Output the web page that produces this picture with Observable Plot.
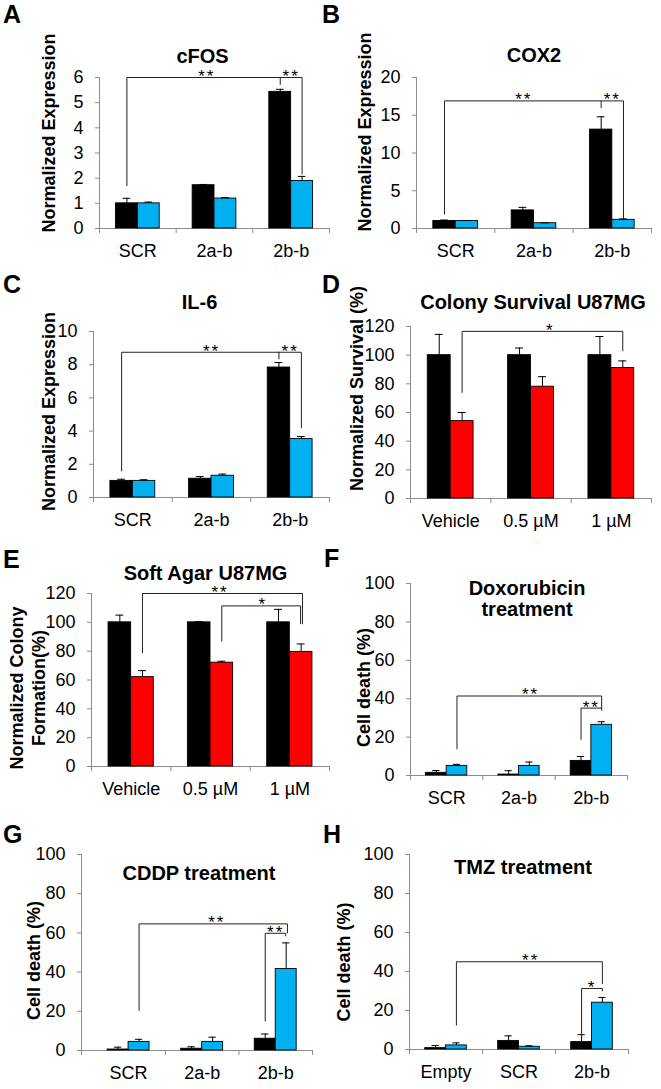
<!DOCTYPE html>
<html>
<head>
<meta charset="utf-8">
<script src="https://cdn.jsdelivr.net/npm/d3@7"></script>
<script src="https://cdn.jsdelivr.net/npm/@observablehq/plot@0.6"></script>
<style>
  body { margin: 0; background: #fff; }
  #fig { position: relative; width: 661px; height: 1089px; overflow: hidden; background: #fff;
         font-family: "Liberation Sans", Arial, Helvetica, sans-serif; }
  .panel { position: absolute; }
  .letter { position: absolute; font: bold 25px/25px "Liberation Sans", Arial, sans-serif; color: #000; }
  .stars text { letter-spacing: 2px; }
</style>
</head>
<body>
<div id="fig"></div>
<script>
// ---------- categories ----------
const geneCats = ["SCR", "2a-b", "2b-b"];
const doseCats = ["Vehicle", "0.5 µM", "1 µM"];
const tmzCats  = ["Empty", "SCR", "2b-b"];

// ---------- A: cFOS ----------
const cfosCtrl = [1.0, 1.72, 5.43];
const cfosCtrlErr = [0.2, 0.03, 0.1];
const cfosKd = [1.0, 1.19, 1.89];
const cfosKdErr = [0.05, 0.04, 0.18];
const cfosTicks = [0, 1, 2, 3, 4, 5, 6];
const cfosBrackets = [[[0, -1, 1.7], [0, -1, 6], [2, 1, 6], [2, 1, 2.16]], [[2, -1, 6], [2, -1, 5.72]]];
const cfosStars = [[0.9, 6, "**"], [2.0, 6, "**"]];

// ---------- B: COX2 ----------
const cox2Ctrl = [1.0, 2.4, 13.1];
const cox2CtrlErr = [0.12, 0.4, 1.7];
const cox2Kd = [1.0, 0.7, 1.15];
const cox2KdErr = [0.05, 0.05, 0.12];
const cox2Ticks = [0, 5, 10, 15, 20];
const cox2Brackets = [[[0, -1, 1.9], [0, -1, 16.9], [2, 1, 16.9], [2, 1, 1.35]], [[2, -1, 16.9], [2, -1, 16.0]]];
const cox2Stars = [[0.87, 16.9, "**"], [2.0, 16.9, "**"]];

// ---------- C: IL-6 ----------
const il6Ctrl = [1.0, 1.13, 7.83];
const il6CtrlErr = [0.1, 0.13, 0.3];
const il6Kd = [1.0, 1.31, 3.52];
const il6KdErr = [0.07, 0.1, 0.15];
const il6Ticks = [0, 2, 4, 6, 8, 10];
const il6Brackets = [[[0, -1, 1.6], [0, -1, 8.75], [2, 1, 8.75], [2, 1, 4.2]], [[2, -1, 8.75], [2, -1, 8.35]]];
const il6Stars = [[1.0, 8.75, "**"], [2.0, 8.75, "**"]];

// ---------- D: Colony Survival ----------
const colonyCtrl = [100, 100, 100];
const colonyCtrlErr = [14.5, 5, 13];
const colonyTreat = [54, 78, 91];
const colonyTreatErr = [6, 7, 5];
const pctTicks120 = [0, 20, 40, 60, 80, 100, 120];
const colonyBrackets = [[[0, 1, 74], [0, 1, 116.6], [2, 1, 116.6], [2, 1, 103]]];
const colonyStars = [[1.24, 116.6, "*"]];

// ---------- E: Soft Agar ----------
const agarCtrl = [100, 100, 100];
const agarCtrlErr = [5, 0.5, 9];
const agarTreat = [62, 72, 79.5];
const agarTreatErr = [4.5, 1, 5.5];
const agarBrackets = [[[0, 1, 79], [0, 1, 120], [2, 1.12, 120], [2, 1.12, 99]],
                      [[1, 1, 87], [1, 1, 111.4], [2, 0.95, 111.4], [2, 0.95, 99]]];
const agarStars = [[1.12, 120, "**"], [1.66, 111.4, "*"]];

// ---------- F: Doxorubicin ----------
const doxoCtrl = [1.4, 0.5, 7.6];
const doxoCtrlErr = [1.2, 2.0, 2.3];
const doxoKd = [5.0, 5.0, 26.4];
const doxoKdErr = [0.8, 2.0, 1.6];
const pctTicks100 = [0, 20, 40, 60, 80, 100];
const doxoBrackets = [[[0, 1, 13.9], [0, 1, 41.4], [2, 1, 41.4], [2, 1, 34]],
                      [[2, -1, 18.8], [2, -1, 35.1], [2, 1, 35.1]]];
const doxoStars = [[1.16, 41.4, "**"], [2.0, 35.1, "**"]];

// ---------- G: CDDP ----------
const cddpCtrl = [0.5, 0.9, 6.0];
const cddpCtrlErr = [1.2, 1.0, 2.4];
const cddpKd = [4.4, 4.4, 41.6];
const cddpKdErr = [1.3, 2.4, 13.3];
const cddpBrackets = [[[0, 1, 20.4], [0, 1, 64.6], [2, 1.12, 64.6], [2, 1.12, 60]],
                      [[2, -1, 15], [2, -1, 59.8], [2, 0.95, 59.8], [2, 0.95, 58.5]]];
const cddpStars = [[1.2, 64.6, "**"], [2.0, 59.8, "**"]];

// ---------- H: TMZ ----------
const tmzCtrl = [0.7, 4.4, 3.8];
const tmzCtrlErr = [1.3, 2.6, 3.8];
const tmzKd = [2.1, 1.4, 24.0];
const tmzKdErr = [1.3, 0.5, 2.7];
const tmzBrackets = [[[0, 1, 12.5], [0, 1, 45], [2, 1, 45], [2, 1, 33.8]],
                     [[2, -1, 6], [2, -1, 31.3], [2, 1, 31.3], [2, 1, 30]]];
const tmzStars = [[1.16, 45, "**"], [2.0, 31.3, "*"]];

// ---------- colours ----------
const BLUE = "#00B0F0";
const RED = "#FF0000";
const AXIS = "#8c8c8c";
const FONT = "'Liberation Sans', Arial, Helvetica, sans-serif";
const BW = 0.285; // bar width in category units

function makePanel(cfg) {
  const rows = [];
  cfg.cats.forEach((c, i) => {
    rows.push({i, s: 0, v: cfg.ctrl[i], e: cfg.ctrlErr[i], fill: "#000"});
    rows.push({i, s: 1, v: cfg.treat[i], e: cfg.treatErr[i], fill: cfg.color});
  });
  const cx = d => d.i + (d.s - 0.5) * BW;
  const bpts = [];
  cfg.brackets.forEach((br, k) => br.forEach(([i, side, v]) => bpts.push({k, x: i + side * BW / 2, y: v})));
  const stars = cfg.stars.map(([x, y, t]) => ({x, y, t}));
  const x0 = cfg.xStart ?? -0.5;
  const bounds = [x0, 0.5, 1.5, 2.5];
  const catIdx = cfg.cats.map((c, i) => i);

  const plot = Plot.plot({
    width: cfg.w, height: cfg.h,
    marginLeft: cfg.m[0], marginRight: cfg.m[1], marginTop: cfg.m[2], marginBottom: cfg.m[3],
    style: {fontFamily: FONT, fontSize: "18px", overflow: "visible", background: "transparent", color: "#000"},
    x: {type: "linear", domain: [x0, 2.5], axis: null},
    y: {domain: cfg.yDomain, axis: null},
    marks: [
      Plot.ruleY([0], {stroke: AXIS, strokeWidth: 1}),
      Plot.ruleX([x0], {stroke: AXIS, strokeWidth: 1}),
      Plot.axisY({ticks: cfg.yTicks, tickSize: 4, tickFormat: () => "", color: AXIS, label: null}),
      Plot.axisY({ticks: cfg.yTicks, tickSize: 0, tickPadding: 16, color: "#000", label: null,
                  tickFormat: d => String(d)}),
      Plot.axisX({ticks: bounds, tickSize: 5, tickFormat: () => "", color: AXIS, label: null}),
      Plot.axisX({ticks: catIdx, tickSize: 0, tickPadding: 16, color: "#000", label: null,
                  tickFormat: i => cfg.cats[i]}),
      Plot.rectY(rows, {x1: d => d.i - BW + d.s * BW, x2: d => d.i + d.s * BW, y1: 0, y2: "v",
                        fill: "fill", stroke: "#000", strokeWidth: 0.9}),
      Plot.ruleX(rows, {x: cx, y1: "v", y2: d => d.v + d.e, stroke: "#000", strokeWidth: 1}),
      Plot.ruleY(rows, {y: d => d.v + d.e, x1: d => cx(d) - 0.05, x2: d => cx(d) + 0.05, stroke: "#000", strokeWidth: 1}),
      Plot.line(bpts, {x: "x", y: "y", z: "k", stroke: "#222", strokeWidth: 1}),
      Plot.text(stars, {x: "x", y: "y", text: "t", dy: -1, fontSize: 17, fill: "#000", className: "stars"}),
      Plot.text([cfg.title], {frameAnchor: "top", lineAnchor: "middle", textAnchor: "middle", dx: cfg.tOff[0], dy: cfg.tOff[1],
                              fontWeight: "bold", fontSize: 20, lineHeight: 1.05, fill: "#000"}),
      Plot.text([cfg.yLabel], {frameAnchor: "left", lineAnchor: "middle", textAnchor: "middle", rotate: -90,
                               dx: cfg.lOff[0], dy: cfg.lOff[1],
                               fontWeight: "bold", fontSize: 18, lineHeight: 1.22, fill: "#000"})
    ]
  });
  const holder = document.createElement("div");
  holder.className = "panel";
  holder.style.left = cfg.left + "px";
  holder.style.top = cfg.top + "px";
  holder.style.width = cfg.w + "px";
  holder.style.height = cfg.h + "px";
  holder.appendChild(plot);
  document.getElementById("fig").appendChild(holder);

  const L = document.createElement("div");
  L.className = "letter";
  L.textContent = cfg.letter;
  L.style.left = cfg.letterPos[0] + "px";
  L.style.top = cfg.letterPos[1] + "px";
  document.getElementById("fig").appendChild(L);
}

const panels = [
  {letter: "A", letterPos: [3, 2], left: 0, top: 0, w: 330, h: 270, m: [99, 1, 77, 42],
   cats: geneCats, ctrl: cfosCtrl, ctrlErr: cfosCtrlErr, treat: cfosKd, treatErr: cfosKdErr, color: BLUE,
   yDomain: [0, 6], yTicks: cfosTicks, brackets: cfosBrackets, stars: cfosStars,
   title: "cFOS", tOff: [-12, -21], yLabel: "Normalized Expression", lOff: [-52, -20]},
  {letter: "B", letterPos: [322, 2], left: 330, top: 0, w: 331, h: 270, m: [86, 10, 77, 42],
   cats: geneCats, ctrl: cox2Ctrl, ctrlErr: cox2CtrlErr, treat: cox2Kd, treatErr: cox2KdErr, color: BLUE,
   yDomain: [0, 20], yTicks: cox2Ticks, brackets: cox2Brackets, stars: cox2Stars,
   title: "COX2", tOff: [0, -22], yLabel: "Normalized Expression", lOff: [-53, -21]},
  {letter: "C", letterPos: [3, 272], left: 0, top: 270, w: 330, h: 270, m: [93, 1, 61, 43],
   cats: geneCats, ctrl: il6Ctrl, ctrlErr: il6CtrlErr, treat: il6Kd, treatErr: il6KdErr, color: BLUE,
   yDomain: [0, 10], yTicks: il6Ticks, brackets: il6Brackets, stars: il6Stars,
   title: "IL-6", tOff: [-12, -29], yLabel: "Normalized Expression", lOff: [-46, -3]},
  {letter: "D", letterPos: [322, 272], left: 330, top: 270, w: 331, h: 270, m: [80, 10, 56, 42],
   cats: doseCats, ctrl: colonyCtrl, ctrlErr: colonyCtrlErr, treat: colonyTreat, treatErr: colonyTreatErr, color: RED,
   yDomain: [0, 120], yTicks: pctTicks120, brackets: colonyBrackets, stars: colonyStars,
   title: "Colony Survival U87MG", tOff: [2, -24], yLabel: "Normalized Survival (%)", lOff: [-55, -24]},
  {letter: "E", letterPos: [3, 547], left: 0, top: 540, w: 330, h: 270, m: [91, 1, 53, 44],
   cats: doseCats, ctrl: agarCtrl, ctrlErr: agarCtrlErr, treat: agarTreat, treatErr: agarTreatErr, color: RED,
   yDomain: [0, 120], yTicks: pctTicks120, brackets: agarBrackets, stars: agarStars,
   title: "Soft Agar U87MG", tOff: [-5, -20], yLabel: "Normalized Colony\nFormation(%)", lOff: [-65, 8]},
  {letter: "F", letterPos: [324, 546], left: 330, top: 540, w: 331, h: 270, m: [80, 34, 43, 35],
   cats: geneCats, ctrl: doxoCtrl, ctrlErr: doxoCtrlErr, treat: doxoKd, treatErr: doxoKdErr, color: BLUE,
   yDomain: [0, 100], yTicks: pctTicks100, brackets: doxoBrackets, stars: doxoStars,
   title: "Doxorubicin\ntreatment", tOff: [8, 15], yLabel: "Cell death (%)", lOff: [-48, 8]},
  {letter: "G", letterPos: [3, 822], left: 0, top: 810, w: 330, h: 279, m: [81, 18, 44, 39], xStart: -0.64,
   cats: geneCats, ctrl: cddpCtrl, ctrlErr: cddpCtrlErr, treat: cddpKd, treatErr: cddpKdErr, color: BLUE,
   yDomain: [0, 100], yTicks: pctTicks100, brackets: cddpBrackets, stars: cddpStars,
   title: "CDDP treatment", tOff: [2, 19], yLabel: "Cell death (%)", lOff: [-49, 8]},
  {letter: "H", letterPos: [323, 822], left: 330, top: 810, w: 331, h: 279, m: [79, 33, 44, 40],
   cats: tmzCats, ctrl: tmzCtrl, ctrlErr: tmzCtrlErr, treat: tmzKd, treatErr: tmzKdErr, color: BLUE,
   yDomain: [0, 100], yTicks: pctTicks100, brackets: tmzBrackets, stars: tmzStars,
   title: "TMZ treatment", tOff: [4, 13], yLabel: "Cell death (%)", lOff: [-67, 10]}
];

panels.forEach(makePanel);
</script>
</body>
</html>
